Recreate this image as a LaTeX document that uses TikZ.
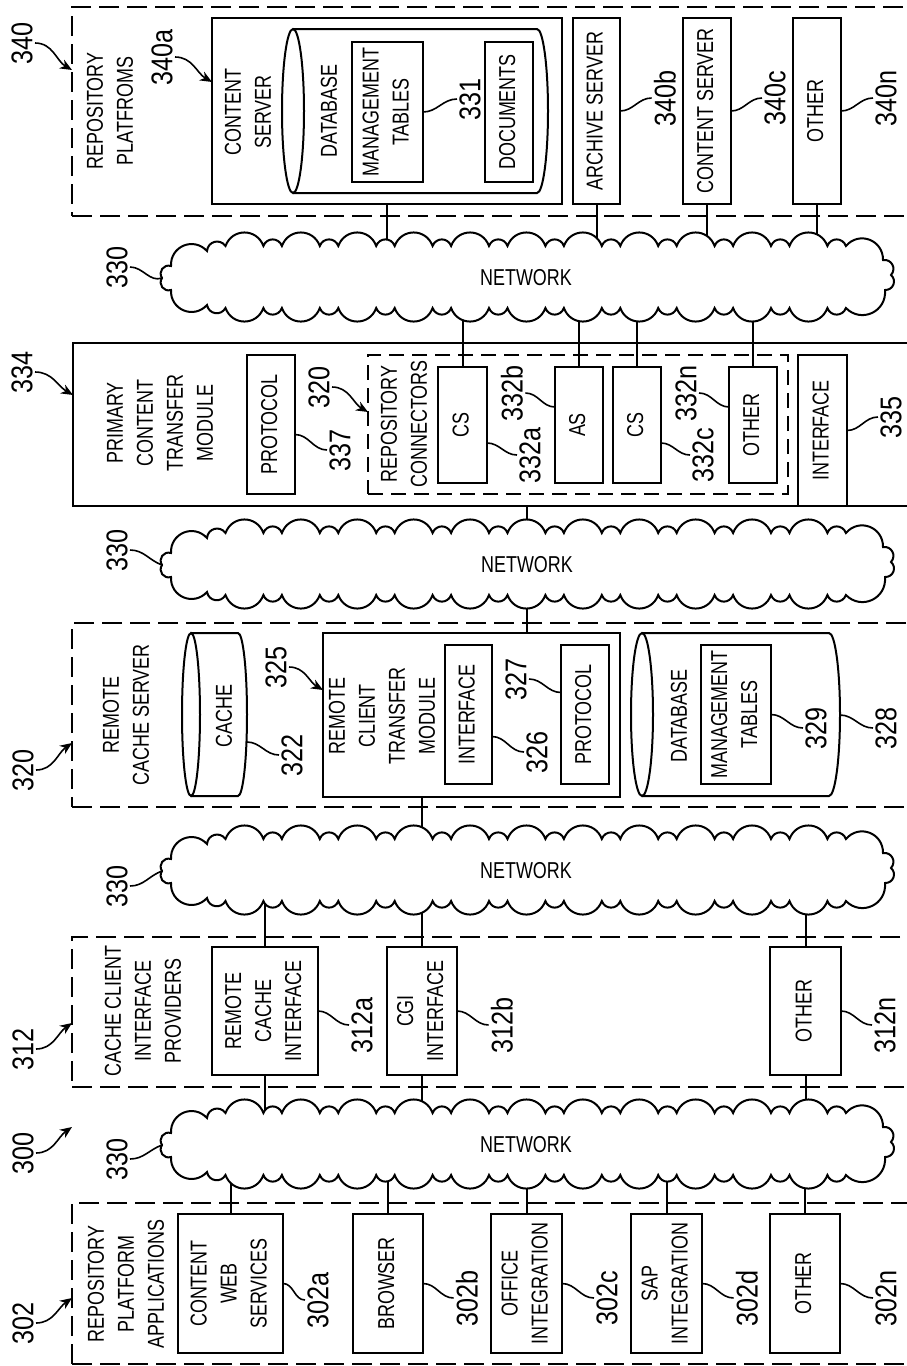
\documentclass[tikz,border=0pt]{standalone}
\usepackage{fontspec}
\setmainfont{Liberation Sans}[FakeStretch=0.78]
\newfontfamily\labfont{Liberation Sans}[FakeStretch=0.84]
\usepackage{graphicx}
\usetikzlibrary{arrows.meta,calc}
\tikzset{
  box/.style={draw, line width=1pt, inner sep=0pt, outer sep=0pt, font=\fontsize{11.5}{15}\selectfont},
  dbox/.style={draw, line width=1pt, inner sep=0pt, outer sep=0pt, dash pattern=on 10pt off 4pt},
  rdbox/.style={draw, line width=1pt, inner sep=0pt, outer sep=0pt, dash pattern=on 7.5pt off 4pt},
  txt/.style={rotate=90, align=center, inner sep=0pt, font=\fontsize{11.5}{15}\selectfont},
  lab/.style={rotate=90, inner sep=1pt, font=\labfont\fontsize{15}{18}\selectfont},
  lead/.style={line width=0.8pt},
  arr/.style={line width=0.8pt, -{Stealth[length=6pt,width=5pt]}},
  conn/.style={line width=1pt},
  cloudline/.style={draw, line width=1pt, fill=white},
  bigb/.style={bend left=70, looseness=1.3},
  smallb/.style={bend left=70, looseness=1.3},
  nettext/.style={inner sep=0pt, font=\fontsize{11.5}{15}\selectfont},
}
% box: [style]{name}{x1}{y1}{x2}{y2}{text}  (image pixel coordinates, y downward)
\newcommand{\bx}[7][box]{\node[#1, minimum width={(#5-#3)*0.5pt}, minimum height={(#6-#4)*0.5pt}] (#2) at ({(#3+#5)/2},{-(#4+#6)/2}) {\rotatebox{90}{\begin{tabular}{@{}c@{}}#7\end{tabular}}};}
\newcommand{\lb}[4]{\node[lab] (#1) at (#2,-#3) {#4};}
% cylinder lying on its side: x1 y1 x2 y2 rx
\newcommand{\cyl}[5]{%
  \draw[line width=1pt] ({#1+#5},-#2) -- ({#3-#5},-#2) arc[start angle=90, end angle=-90, x radius=#5, y radius={(#4-#2)/2}] -- ({#1+#5},-#4);
  \draw[line width=1pt] ({#1+#5},{-(#2+#4)/2}) ellipse[x radius=#5, y radius={(#4-#2)/2}];}
% cloud: mid y
\newcommand{\netcloud}[1]{%
  \draw[cloudline] (162,-#1) to[smallb] (171,-#1+12) to[bigb] (207,-#1+27) to[smallb] (225.5,-#1+32)
   \foreach \k in {1,...,11} { to[bigb] ({207+56.4*\k},-#1+32) to[smallb] ({225.5+56.4*\k},-#1+32) }
   to[bigb] (883,-#1+18) to[smallb] (891,-#1+3) to[smallb] (885,-#1-12) to[bigb] (845.9,-#1-30)
   \foreach \k in {11,...,1} { to[smallb] ({207+56.4*\k},-#1-30) to[bigb] ({225.5+56.4*(\k-1)},-#1-30) }
   to[smallb] (207,-#1-27) to[bigb] (171,-#1-12) to[smallb] (162,-#1) -- cycle;}
\begin{document}
\begin{tikzpicture}[x=0.5pt,y=0.5pt]
\useasboundingbox (0,0) rectangle (906,-1366);

% ---------------- 340 repository platforms
\bx[dbox]{D340}{72}{7}{915}{216}{}
\node[txt] (t340) at (110,-111) {REPOSITORY\\PLATFROMS};
\bx{cs340a}{212}{18}{562}{204}{}
\node[txt] (tcs340a) at (248,-112) {CONTENT\\SERVER};
\cyl{282}{29}{548}{193}{11}
\node[txt] (tdb340) at (329,-111) {DATABASE};
\bx{mt331}{352}{42}{423}{182}{MANAGEMENT\\TABLES}
\bx{doc}{485}{42}{533}{182}{DOCUMENTS}
\bx{as340b}{573}{18}{620}{204}{ARCHIVE SERVER}
\bx{cs340c}{683}{18}{731}{204}{CONTENT SERVER}
\bx{ot340n}{793}{18}{841}{204}{OTHER}
\lb{l340}{22}{43}{340}
\lb{l340a}{162}{57}{340a}
\lb{l331}{470}{99}{331}
\lb{l340b}{665}{98}{340b}
\lb{l340c}{775}{98}{340c}
\lb{l340n}{886}{98}{340n}
\draw[arr] (l340.south) to[out=0,in=150] ([yshift=-31.5pt]D340.north west);
\draw[arr] (l340a.south) to[out=0,in=150] ([yshift=-32pt]cs340a.north west);
\draw[lead] (mt331.east) to[out=0,in=180] (l331.north);
\draw[lead] (as340b.east) to[out=0,in=180] (l340b.north);
\draw[lead] (cs340c.east) to[out=0,in=180] (l340c.north);
\draw[lead] (ot340n.east) to[out=0,in=180] (l340n.north);

% ---------------- 334 primary content transfer module
\bx{pctm}{73}{343}{925}{506}{}
\node[txt] (tpctm) at (160,-423) {PRIMARY\\CONTENT\\TRANSFER\\MODULE};
\bx{prot337}{247}{355}{295}{494}{PROTOCOL}
\bx[rdbox]{rc320}{368}{355}{788}{494}{}
\node[txt] (trc) at (404,-424) {REPOSITORY\\CONNECTORS};
\bx{cs332a}{438}{367}{487}{483}{CS}
\bx{as332b}{555}{367}{603}{483}{AS}
\bx{cs332c}{613}{367}{661}{483}{CS}
\bx{ot332n}{729}{367}{777}{483}{OTHER}
\bx{if335}{798}{355}{847}{506}{INTERFACE}
\lb{l334}{22}{372}{334}
\lb{l337}{340}{450}{337}
\lb{l320r}{319}{387}{320}
\lb{l332a}{530}{455}{332a}
\lb{l332b}{512}{393}{332b}
\lb{l332c}{703}{455}{332c}
\lb{l332n}{686}{393}{332n}
\lb{l335}{891}{417}{335}
\draw[arr] (l334.south) to[out=0,in=150] ([yshift=-26pt]pctm.north west);
\draw[arr] (l320r.south) to[out=0,in=150] ([yshift=-28.5pt]rc320.north west);
\draw[lead] ([yshift=-5pt]prot337.east) to[out=0,in=180] (l337.north);
\draw[lead] ([yshift=-9pt]cs332a.east) to[out=0,in=180] (l332a.north);
\draw[lead] (l332b.south) to[out=0,in=180] ([yshift=9pt]as332b.west);
\draw[lead] ([yshift=-9pt]cs332c.east) to[out=0,in=180] (l332c.north);
\draw[lead] (l332n.south) to[out=0,in=180] ([yshift=9pt]ot332n.west);
\draw[lead] (if335.east) to[out=0,in=180] (l335.north);

% ---------------- 320 remote cache server
\bx[dbox]{D320}{72}{623}{915}{807}{}
\node[txt] (t320) at (126,-715) {REMOTE\\CACHE SERVER};
\cyl{182}{633}{247}{796}{9}
\coordinate (cache322) at (247,-742);
\node[txt] (tcache) at (224,-716) {CACHE};
\bx{rctm}{323}{633}{620}{797}{}
\node[txt] (trctm) at (382,-716) {REMOTE\\CLIENT\\TRANSFER\\MODULE};
\bx{if326}{445}{645}{492}{784}{INTERFACE}
\bx{prot327}{561}{645}{609}{784}{PROTOCOL}
\cyl{631}{633}{840}{796}{11}
\coordinate (db328) at (840,-715);
\node[txt] (tdb328) at (679,-716) {DATABASE};
\bx{mt329}{701}{645}{771}{784}{MANAGEMENT\\TABLES}
\lb{l320}{23}{770}{320}
\lb{l322}{292}{755}{322}
\lb{l325}{276}{667}{325}
\lb{l326}{537}{752}{326}
\lb{l327}{516}{679}{327}
\lb{l329}{816}{728}{329}
\lb{l328}{886}{728}{328}
\draw[arr] (l320.south) to[out=0,in=215] ([yshift=32pt]D320.south west);
\draw[lead] (cache322) to[out=0,in=180] (l322.north);
\draw[arr] (l325.south) to[out=0,in=150] ([yshift=-28.5pt]rctm.north west);
\draw[lead] ([yshift=-11pt]if326.east) to[out=0,in=180] (l326.north);
\draw[lead] (l327.south) to[out=0,in=180] ([yshift=11pt]prot327.west);
\draw[lead] (mt329.east) to[out=0,in=180] (l329.north);
\draw[lead] (db328) to[out=0,in=180] (l328.north);

% ---------------- 312 cache client interface providers
\bx[dbox]{D312}{72}{937}{915}{1087}{}
\node[txt] (t312) at (143,-1011) {CACHE CLIENT\\INTERFACE\\PROVIDERS};
\bx{r312a}{212}{947}{318}{1075}{REMOTE\\CACHE\\INTERFACE}
\bx{c312b}{387}{947}{457}{1075}{CGI\\INTERFACE}
\bx{o312n}{770}{947}{841}{1075}{OTHER}
\lb{l312}{23}{1049}{312}
\lb{l312a}{362}{1025}{312a}
\lb{l312b}{502}{1025}{312b}
\lb{l312n}{885}{1025}{312n}
\draw[arr] (l312.south) to[out=0,in=215] ([yshift=32pt]D312.south west);
\draw[lead] (r312a.east) to[out=0,in=180] (l312a.north);
\draw[lead] (c312b.east) to[out=0,in=180] (l312b.north);
\draw[lead] (o312n.east) to[out=0,in=180] (l312n.north);

% ---------------- 302 repository platform applications
\bx[dbox]{D302}{72}{1203}{915}{1364}{}
\node[txt] (t302) at (126,-1284) {REPOSITORY\\PLATFORM\\APPLICATIONS};
\bx{a302}{178}{1214}{283}{1353}{CONTENT\\WEB\\SERVICES}
\bx{b302}{353}{1214}{423}{1353}{BROWSER}
\bx{c302}{491}{1214}{562}{1353}{OFFICE\\INTEGRATION}
\bx{d302}{631}{1214}{702}{1353}{SAP\\INTEGRATION}
\bx{n302}{770}{1214}{840}{1353}{OTHER}
\lb{l302}{23}{1323}{302}
\lb{l300}{23}{1153}{300}
\lb{l302a}{318}{1300}{302a}
\lb{l302b}{467}{1298}{302b}
\lb{l302c}{607}{1298}{302c}
\lb{l302d}{747}{1298}{302d}
\lb{l302n}{886}{1298}{302n}
\coordinate (p300) at (72,-1127);
\draw[arr] (l302.south) to[out=0,in=215] ([yshift=33pt]D302.south west);
\draw[arr] (l300.south) to[out=0,in=215] (p300);
\draw[lead] (a302.east) to[out=0,in=180] (l302a.north);
\draw[lead] (b302.east) to[out=0,in=180] (l302b.north);
\draw[lead] (c302.east) to[out=0,in=180] (l302c.north);
\draw[lead] (d302.east) to[out=0,in=180] (l302d.north);
\draw[lead] (n302.east) to[out=0,in=180] (l302n.north);

% ---------------- network connectors
\coordinate (net1) at (526,-278);
\coordinate (net2) at (527,-565);
\coordinate (net3) at (526,-871);
\coordinate (net4) at (526,-1145);
\foreach \b in {cs340a,as340b,cs340c,ot340n}
  \draw[conn] (\b.south) -- (\b.south |- net1);
\foreach \b in {cs332a,as332b,cs332c,ot332n}
  \draw[conn] (\b.north) -- (\b.north |- net1);
\draw[conn] (net2 |- pctm.south) -- (net2);
\draw[conn] (net2) -- (net2 |- rctm.north);
\draw[conn] (c312b.north |- rctm.south) -- (c312b.north |- net3);
\foreach \b in {r312a,c312b,o312n} {
  \draw[conn] (\b.north) -- (\b.north |- net3);
  \draw[conn] (\b.south) -- (\b.south |- net4);}
\foreach \b in {a302,b302,c302,d302,n302}
  \draw[conn] (\b.north) -- (\b.north |- net4);

% ---------------- clouds
\netcloud{278}
\netcloud{565}
\netcloud{871}
\netcloud{1145}
\node[nettext] (nt1) at (net1) {NETWORK};
\node[nettext] (nt2) at (net2) {NETWORK};
\node[nettext] (nt3) at (net3) {NETWORK};
\node[nettext] (nt4) at (net4) {NETWORK};
\coordinate (tip1) at (162,-278);
\coordinate (tip2) at (162,-565);
\coordinate (tip3) at (162,-871);
\coordinate (tip4) at (162,-1145);
\lb{l330a}{117}{267}{330}
\lb{l330b}{117}{550}{330}
\lb{l330c}{117}{886}{330}
\lb{l330d}{117}{1159}{330}
\draw[lead] (l330a.south) to[out=0,in=200] (tip1);
\draw[lead] (l330b.south) to[out=0,in=160] (tip2);
\draw[lead] (l330c.south) to[out=0,in=200] (tip3);
\draw[lead] (l330d.south) to[out=0,in=200] (tip4);
\end{tikzpicture}
\end{document}
